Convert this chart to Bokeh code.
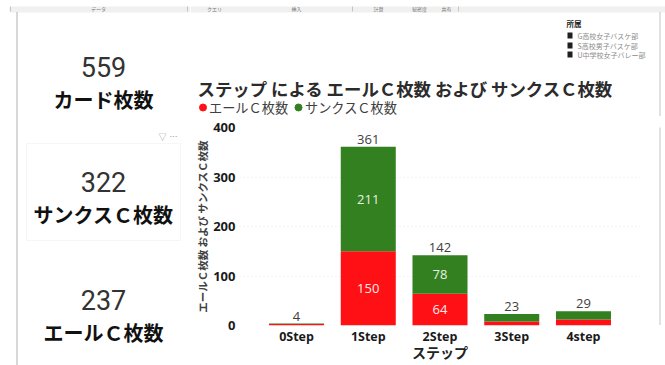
from bokeh.plotting import figure
from bokeh.layouts import row, column
from bokeh.core.properties import value
from bokeh.models import ColumnDataSource, FactorRange, LabelSet, NumeralTickFormatter, Range1d
from bokeh.embed import file_html
from bokeh.resources import INLINE

# Card counts per step
steps = ["0Step", "1Step", "2Step", "3Step", "4step"]
yell_cards = [3, 150, 64, 8, 12]
thanks_cards = [1, 211, 78, 15, 17]
totals = [4, 361, 142, 23, 29]
y_ticks = [0, 100, 200, 300, 400]

# Summary tiles: value, caption
kpi_values = ["559", "322", "237"]
kpi_captions = ["カード枚数", "サンクスＣ枚数", "エールＣ枚数"]

# Slicer entries and ribbon group names
slicer_title = "所属"
slicer_items = ["G高校女子バスケ部", "S高校男子バスケ部", "U中学校女子バレー部"]
ribbon_groups = ["データ", "クエリ", "挿入", "計算", "秘密度", "共有"]

chart_title = "ステップ による エールＣ枚数 および サンクスＣ枚数"
y_title = "エールＣ枚数 および サンクスＣ枚数"
x_title = "ステップ"
legend_names = ["エールＣ枚数", "サンクスＣ枚数"]

RED = "#FF1015"
GREEN = "#328020"
W, H = 665, 365
FONT = "Noto Sans CJK JP"

# The page is split into panels: left tiles, heading/slicer band, chart, right edge
LEFT_W, BAND_H, EDGE_W = 190, 116, 25
CHART_W = W - LEFT_W - EDGE_W
CHART_H = H - BAND_H
FRAME_TOP, FRAME_BOTTOM = 127, 325


def panel(x0, x1, y0, y1):
    """A blank figure whose data coordinates are page pixels."""
    f = figure(width=x1 - x0, height=y1 - y0, x_range=Range1d(x0, x1), y_range=Range1d(y1, y0),
               output_backend="svg", toolbar_location=None, x_axis_location=None, y_axis_location=None,
               min_border=0, outline_line_color=None, background_fill_color="white",
               border_fill_color="white")
    f.grid.visible = False
    return f


def put_text(f, x, y, text, size, color="#222222", style="normal", font=FONT, align="left"):
    f.text([x], [y], text=[text], text_font=value(font), text_font_size=f"{size}px",
           text_font_style=style, text_color=color, text_align=align, text_baseline="middle")


def put_strip(f, x0, x1):
    f.quad(left=[x0], right=[x1], top=[6], bottom=[12], fill_color="#f0f0f0", line_color=None)


left = panel(0, LEFT_W, 0, H)
band = panel(LEFT_W, W, 0, BAND_H)
edge = panel(W - EDGE_W, W, BAND_H, H)

# Ribbon strip and page edges
put_strip(left, 9, LEFT_W)
put_strip(band, LEFT_W, W)
for f, x, name in zip([left, band, band, band, band, band], [98, 214, 296, 378, 419, 446], ribbon_groups):
    put_text(f, x, 8, name, 5, color="#777777", align="center")
left.segment([10, 187], [6, 6], [10, 187], [11, 11], line_color="#c4c4c4")
band.segment([352, 458], [6, 6], [352, 458], [11, 11], line_color="#c4c4c4")
left.segment([16.5], [12], [16.5], [H], line_color="#666666", line_dash="1 1")
band.segment([659.5], [12], [659.5], [BAND_H], line_color="#c4c4c4", line_dash="1 1", line_width=2)
edge.segment([659.5], [BAND_H], [659.5], [H], line_color="#c4c4c4", line_dash="1 1", line_width=2)

# Summary tiles
left.quad(left=[26], right=[180], top=[143], bottom=[240], fill_color=None, line_color="#f6f6f6")
for val, caption, y in zip(kpi_values, kpi_captions, [66, 181, 299]):
    put_text(left, 103, y, val, 27, color="#333333", font="Roboto", align="center")
    put_text(left, 103, y + 33, caption, 20, color="#111111", style="bold", align="center")
put_text(left, 162, 136, "▽", 8, color="#999999", align="center")
put_text(left, 173, 136, "⋯", 8, color="#999999", align="center")

# Slicer
put_text(band, 566, 23, slicer_title, 7.5, color="#222222", style="bold")
for item, y in zip(slicer_items, [35, 45, 54]):
    band.quad(left=[567], right=[572], top=[y - 3], bottom=[y + 3], fill_color="#1f1f1f", line_color=None)
    put_text(band, 577, y, item, 7, color="#8a8a8a")

# Chart heading and series key
put_text(band, 197, 88, chart_title, 17.4, color="#2b2b2b", style="bold")
band.scatter([202.5], [107], size=7, color=RED)
put_text(band, 208.5, 107, legend_names[0], 13.2, color="#404040")
band.scatter([298], [107], size=7, color=GREEN)
put_text(band, 304.5, 107, legend_names[1], 13.2, color="#404040")

# Stacked bars
x_range = FactorRange(factors=steps, range_padding=0.295, range_padding_units="absolute")
p = figure(width=CHART_W, height=CHART_H, x_range=x_range, y_range=(0, 400), output_backend="svg",
           toolbar_location=None, min_border_left=239 - LEFT_W, min_border_right=0,
           min_border_top=FRAME_TOP - BAND_H, min_border_bottom=H - FRAME_BOTTOM,
           outline_line_color=None, background_fill_color="white", border_fill_color="white")

source = ColumnDataSource(dict(
    step=steps, yell=yell_cards, thanks=thanks_cards,
    total=[str(v) for v in totals],
    yell_mid=[v / 2 for v in yell_cards],
    thanks_mid=[a + b / 2 for a, b in zip(yell_cards, thanks_cards)],
    yell_text=[str(v) if v >= 30 else "" for v in yell_cards],
    thanks_text=[str(v) if v >= 30 else "" for v in thanks_cards],
))

p.vbar_stack(["yell", "thanks"], x="step", width=0.767, color=[RED, GREEN], source=source, line_color=None)


def add_values(y, text, color, offset=0, baseline="middle"):
    p.add_layout(LabelSet(x="step", y=y, text=text, source=source, text_color=color,
                          text_font=value("Open Sans"), text_font_size="13px", text_align="center",
                          text_baseline=baseline, y_offset=offset))


add_values("total", "total", "#404040", offset=3, baseline="bottom")
add_values("yell_mid", "yell_text", "#ffe8e8")
add_values("thanks_mid", "thanks_text", "#e8f0e4")

p.xgrid.visible = False
p.ygrid.grid_line_color = "#e8e8e8"
p.ygrid.grid_line_dash = "1 3"
p.ygrid.ticker = y_ticks

p.yaxis.ticker = y_ticks
p.yaxis.formatter = NumeralTickFormatter(format="0")
p.yaxis.axis_line_color = None
p.yaxis.major_tick_line_color = None
p.yaxis.minor_tick_line_color = None
p.yaxis.major_tick_out = 0
p.yaxis.major_label_text_font = "Open Sans"
p.yaxis.major_label_text_font_style = "bold"
p.yaxis.major_label_text_font_size = "13px"
p.yaxis.major_label_text_color = "#1a1a1a"
p.yaxis.major_label_standoff = 4
p.yaxis.axis_label = y_title
p.yaxis.axis_label_text_font = FONT
p.yaxis.axis_label_text_font_style = "bold"
p.yaxis.axis_label_text_font_size = "10.5px"
p.yaxis.axis_label_text_color = "#404040"
p.yaxis.axis_label_standoff = 0

p.xaxis.axis_line_color = None
p.xaxis.major_tick_line_color = None
p.xaxis.major_tick_out = 0
p.xaxis.major_label_text_font = "Open Sans"
p.xaxis.major_label_text_font_style = "bold"
p.xaxis.major_label_text_font_size = "12.5px"
p.xaxis.major_label_text_color = "#1a1a1a"
p.xaxis.major_label_standoff = 2
p.xaxis.axis_label = x_title
p.xaxis.axis_label_text_font = FONT
p.xaxis.axis_label_text_font_style = "bold"
p.xaxis.axis_label_text_font_size = "14px"
p.xaxis.axis_label_text_color = "#222222"
p.xaxis.axis_label_standoff = -6

page = row(left, column(band, row(p, edge, spacing=0), spacing=0), spacing=0)
open("out.html", "w").write(file_html(page, INLINE))
